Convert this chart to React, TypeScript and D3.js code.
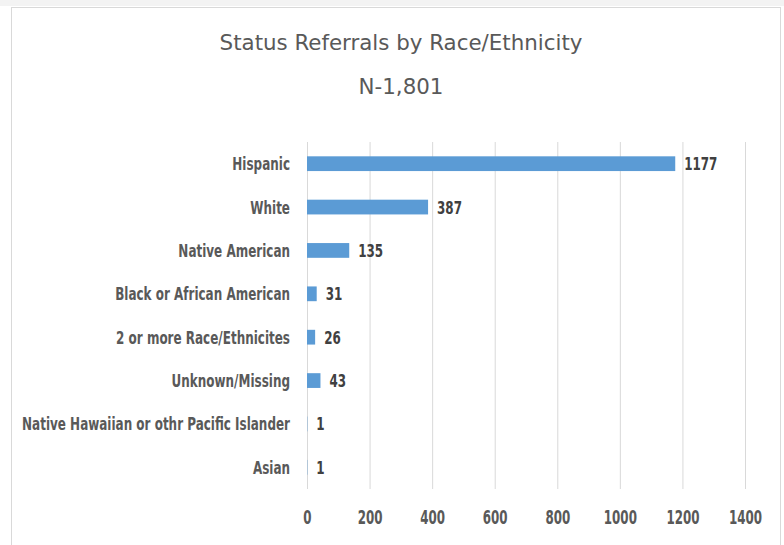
import React, { useEffect, useRef } from 'react';
import * as d3 from 'd3';

// chart data
const categories = [
  'Hispanic',
  'White',
  'Native American',
  'Black or African American',
  '2 or more Race/Ethnicites',
  'Unknown/Missing',
  'Native Hawaiian or othr Pacific Islander',
  'Asian',
];
const referrals = [1177, 387, 135, 31, 26, 43, 1, 1];
const xTicks = [0, 200, 400, 600, 800, 1000, 1200, 1400];
const titleLines = ['Status Referrals by Race/Ethnicity', 'N-1,801'];

const FONT = '"DejaVu Sans Condensed", "DejaVu Sans", sans-serif';

// the original uses a narrow font; squeeze/stretch the glyphs to match its widths
function fitWidth(sel: d3.Selection<any, any, any, any>, factor: number) {
  sel.each(function () {
    const el = this as SVGTextElement;
    const w = el.getComputedTextLength();
    el.setAttribute('textLength', String(w * factor));
    el.setAttribute('lengthAdjust', 'spacingAndGlyphs');
  });
}

export default function App() {
  const ref = useRef<SVGSVGElement>(null);

  useEffect(() => {
    const width = 784, height = 545;
    const plot = { left: 307, right: 745, top: 142, bottom: 489 };

    const svg = d3.select(ref.current)
      .attr('width', width)
      .attr('height', height);
    svg.selectAll('*').remove();

    svg.append('rect')
      .attr('width', width).attr('height', height)
      .attr('fill', '#ffffff');
    svg.append('rect')
      .attr('width', width).attr('height', 6)
      .attr('fill', '#f3f3f3');

    // chart border
    svg.append('rect')
      .attr('x', 11.5).attr('y', 7.5)
      .attr('width', 769).attr('height', 560)
      .attr('fill', '#ffffff')
      .attr('stroke', '#d9d9d9');

    // title
    const title = svg.selectAll('.chart_title').data(titleLines).join('text')
      .attr('class', 'chart_title')
      .attr('x', 401)
      .attr('y', (d, i) => (i === 0 ? 50 : 94))
      .attr('text-anchor', 'middle')
      .style('font-family', FONT)
      .style('font-size', '22px')
      .style('fill', '#595959')
      .text(d => d);
    fitWidth(title, 1.08);

    const x_scale = d3.scaleLinear()
      .domain([0, 1400])
      .range([plot.left, plot.right]);

    const y_scale = d3.scaleBand()
      .domain(categories)
      .range([plot.top, plot.bottom])
      .paddingInner(0.66)
      .paddingOuter(0.33);

    // gridlines + tick labels
    const xAxis = svg.append('g')
      .attr('class', 'x_axis_g')
      .attr('transform', `translate(0, ${plot.bottom})`)
      .call(d3.axisBottom(x_scale)
        .tickValues(xTicks)
        .tickSize(-(plot.bottom - plot.top))
        .tickPadding(21)
        .tickFormat(d3.format('d')));
    xAxis.select('.domain').remove();
    xAxis.selectAll('line').attr('stroke', '#d9d9d9');
    const tickText = xAxis.selectAll('text')
      .style('font-family', FONT)
      .style('font-size', '20px')
      .style('font-weight', 'bold')
      .style('fill', '#595959');
    fitWidth(tickText, 0.66);

    const rows = categories.map((c, i) => ({ name: c, value: referrals[i] }));

    svg.selectAll('.bar').data(rows).join('rect')
      .attr('class', 'bar')
      .attr('x', x_scale(0))
      .attr('y', d => y_scale(d.name) as number)
      .attr('width', d => x_scale(d.value) - x_scale(0))
      .attr('height', y_scale.bandwidth())
      .attr('fill', '#5b9bd5');

    // category labels, squeezed horizontally around their right edge
    svg.selectAll('.cat_label').data(rows).join('text')
      .attr('class', 'cat_label')
      .attr('transform', d =>
        `translate(290, ${(y_scale(d.name) as number) + y_scale.bandwidth() / 2 + 6.5}) scale(0.74, 1)`)
      .attr('text-anchor', 'end')
      .style('font-family', FONT)
      .style('font-size', '18px')
      .style('font-weight', 'bold')
      .style('fill', '#595959')
      .text(d => d.name);

    svg.selectAll('.val_label').data(rows).join('text')
      .attr('class', 'val_label')
      .attr('transform', d =>
        `translate(${x_scale(d.value) + 9}, ${(y_scale(d.name) as number) + y_scale.bandwidth() / 2 + 6.5}) scale(0.78, 1)`)
      .style('font-family', FONT)
      .style('font-size', '17px')
      .style('font-weight', 'bold')
      .style('fill', '#404040')
      .text(d => d.value);
  }, []);

  return (
    <div style={{ position: 'absolute', left: 0, top: 0 }}>
      <svg ref={ref} style={{ display: 'block' }}></svg>
    </div>
  );
}
